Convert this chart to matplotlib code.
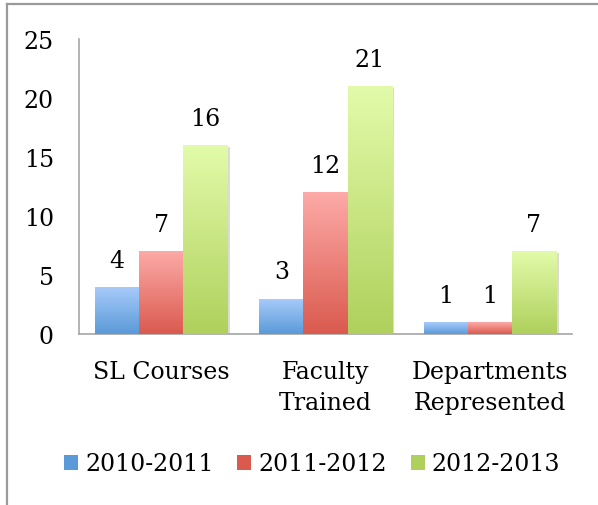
import matplotlib
matplotlib.use('Agg')
import matplotlib.pyplot as plt
import numpy as np
from matplotlib.colors import LinearSegmentedColormap
from matplotlib.lines import Line2D
from matplotlib.patches import Patch
import matplotlib.patheffects as pe

categories = ['SL Courses', 'Faculty\nTrained', 'Departments\nRepresented']
years = ['2010-2011', '2011-2012', '2012-2013']
v_2010 = [4, 3, 1]
v_2011 = [7, 12, 1]
v_2012 = [16, 21, 7]
series = [v_2010, v_2011, v_2012]

# gradient (top colour, bottom colour) per series
grads = [('#a9cbfb', '#5a9ad8'),
         ('#fdaaa8', '#da5a4e'),
         ('#e2fbaa', '#afd05c')]

plt.rcParams['font.family'] = 'DejaVu Serif'
fs = 17

fig = plt.figure(figsize=(5.98, 5.06), dpi=100)
ax = fig.add_axes([79/598, 1 - 335/506, 493/598, 295/506])

x = np.arange(len(categories))
w = 0.268
grad = np.linspace(0, 1, 256).reshape(-1, 1)

for i, vals in enumerate(series):
    cmap = LinearSegmentedColormap.from_list('g%d' % i, [grads[i][0], grads[i][1]])
    bars = ax.bar(x + (i - 1) * w, vals, w, color=grads[i][1], linewidth=0, zorder=2,
                  path_effects=[pe.SimplePatchShadow(offset=(2, -1), alpha=0.18), pe.Normal()])
    for b, v in zip(bars, vals):
        bx, by = b.get_x(), b.get_y()
        im = ax.imshow(grad, cmap=cmap, aspect='auto', zorder=3,
                       extent=[bx, bx + b.get_width(), by, by + b.get_height()])
        im.set_clip_path(b)
        ax.annotate(str(v), (bx + b.get_width() / 2, v), xytext=(0, 14.5),
                    textcoords='offset points', ha='center', va='baseline', fontsize=fs)

ax.set_xlim(-0.5, 2.5)
ax.set_ylim(0, 25)
ax.set_yticks([0, 5, 10, 15, 20, 25])
ax.set_xticks(x)
ax.set_xticklabels(categories, fontsize=fs, linespacing=1.45)
ax.tick_params(axis='y', length=0, pad=18, labelsize=fs)
ax.tick_params(axis='x', length=0, pad=19)
for s in ['top', 'right']:
    ax.spines[s].set_visible(False)
for s in ['left', 'bottom']:
    ax.spines[s].set_color('#a6a6a6')
    ax.spines[s].set_linewidth(1.2)

handles = [Patch(facecolor=grads[i][1], label=years[i]) for i in range(3)]
fig.legend(handles=handles, loc='center', bbox_to_anchor=(312/598, 1 - 465/506),
           ncol=3, frameon=False, fontsize=fs, handlelength=0.6, handleheight=0.6,
           handletextpad=0.3, columnspacing=1.0)

# outer chart frame (left and top edges visible)
fig.add_artist(Line2D([7/598, 7/598], [0, 1 - 5/506], transform=fig.transFigure,
                      color='#9a9a9a', lw=1.6))
fig.add_artist(Line2D([7/598, 1], [1 - 5/506, 1 - 5/506], transform=fig.transFigure,
                      color='#9a9a9a', lw=1.6))

plt.savefig('out.png', dpi=100)
